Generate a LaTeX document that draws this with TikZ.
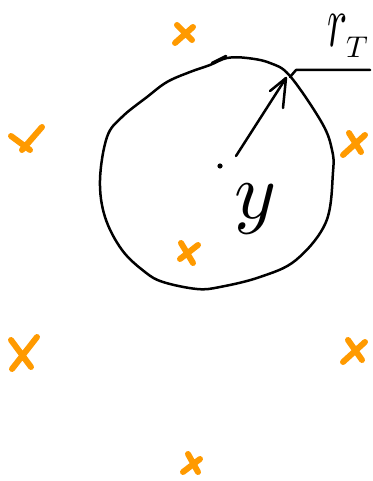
\documentclass[tikz,border=0pt]{standalone}
\definecolor{xorange}{HTML}{FF9A00}
\tikzset{
  ink/.style={black, line width=2.5pt, line cap=round, line join=round},
  cross/.style={xorange, line width=6pt, line cap=round},
  lbl/.style={inner sep=0pt, outer sep=0pt}
}
\begin{document}
\begin{tikzpicture}[x=1pt,y=-1pt]
\useasboundingbox (0,0) rectangle (372,481);
% circle (hand drawn)
\draw[ink] plot[smooth cycle, tension=0.6] coordinates {
 (227,58) (247,58) (270,63) (290,76) (322,123) (332,150) (333,172)
 (326,222) (296,260) (260,277) (220,287) (197,289) (163,282) (145,272)
 (122,250) (105,217) (100,180) (107,137) (122,117) (147,97) (167,82)
 (190,72) (210,65)};
\draw[ink] (212,63) -- (226,56);
% centre dot
\fill (220,166) circle (2.6);
\coordinate (c0) at (236,156);
\coordinate (tip) at (286,78);
\draw[ink] (c0) -- (tip);
\draw[ink] (tip) -- (270,91);
\draw[ink] (tip) -- (283,108);
% radius label leader
\coordinate (h0) at (290,77);
\coordinate (h1) at (296,70);
\coordinate (h2) at (370,70);
\draw[ink] (h0) -- (h1) -- (h2);
% labels
\node[lbl, anchor=base] (r) at (338,47) {\scalebox{4.2}[7.4]{$r$}};
\node[lbl, anchor=base] (T) at (357,58) {\scalebox{3}{$T$}};
\node[lbl, anchor=base] (y) at (256,218) {\scalebox{8}{$y$}};
% orange crosses
\draw[cross] (177,25) -- (192,40) (193,27) -- (175,43);
\draw[cross] (42,127) -- (22,150) (11,136) -- (30,150);
\draw[cross] (365,135) -- (343,155) (349,133) -- (361,152);
\draw[cross] (181,243) -- (193,263) (198,245) -- (180,259);
\draw[cross] (11,340) -- (31,367) (37,337) -- (12,369);
\draw[cross] (365,342) -- (343,362) (348,340) -- (362,360);
\draw[cross] (188,454) -- (198,472) (200,459) -- (183,472);
\end{tikzpicture}
\end{document}
